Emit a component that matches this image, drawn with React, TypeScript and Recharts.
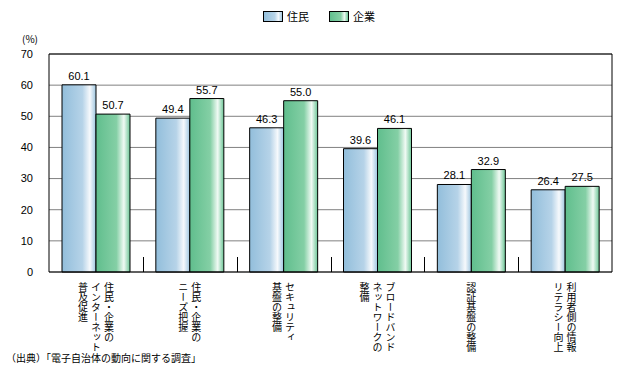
import { BarChart, Bar, XAxis, YAxis, CartesianGrid, LabelList } from 'recharts';

const categories = [
  '住民・企業のインターネット普及促進',
  '住民・企業のニーズ把握',
  'セキュリティ基盤の整備',
  'ブロードバンドネットワークの整備',
  '認証基盤の整備',
  '利用者側の情報リテラシー向上',
];
const categoryLines = [
  ['住民・企業の', 'インターネット', '普及促進'],
  ['住民・企業の', 'ニーズ把握'],
  ['セキュリティ', '基盤の整備'],
  ['ブロードバンド', 'ネットワークの', '整備'],
  ['認証基盤の整備'],
  ['利用者側の情報', 'リテラシー向上'],
];
const residents = [60.1, 49.4, 46.3, 39.6, 28.1, 26.4];
const companies = [50.7, 55.7, 55.0, 46.1, 32.9, 27.5];
const yTicks = [0, 10, 20, 30, 40, 50, 60, 70];

const data = categories.map((name, i) => ({ name, 住民: residents[i], 企業: companies[i] }));

const JP = '"Noto Sans CJK JP", sans-serif';
const NUM = '"Liberation Sans", Arial, sans-serif';

function CategoryTick({ x, y, payload }: any) {
  const lines = categoryLines[payload.index] || [];
  return (
    <foreignObject x={x - 50} y={y + 9} width={100} height={90}>
      <div style={{ display: 'flex', justifyContent: 'center' }}>
        <div style={{ writingMode: 'vertical-rl', fontFamily: JP, fontSize: 10, lineHeight: '13px', color: '#000' }}>
          {lines.map((l, i) => (
            <div key={i}>{l}</div>
          ))}
        </div>
      </div>
    </foreignObject>
  );
}

// short inward tick at the left edge of each category band (skip the first, it sits on the y axis)
function DividerTick({ x, y, width, index }: any) {
  if (!index) return <g />;
  const half = width / categories.length / 2;
  const xx = Math.round(x - half) + 0.5;
  return <line x1={xx} x2={xx} y1={y} y2={y - 15} stroke="#000" strokeWidth={1} />;
}

const fmt = (v: any) => Number(v).toFixed(1);

export default function App() {
  return (
    <div style={{ position: 'absolute', left: 0, top: 0, width: 623, height: 375, background: '#fff' }}>
      {/* legend */}
      <div style={{ position: 'absolute', top: 8, left: 263, display: 'flex', alignItems: 'center', fontFamily: JP, fontSize: 11 }}>
        <span style={{ width: 18, height: 9, border: '1px solid #000', background: 'linear-gradient(to right, #94c0dc, #b8d4e8 60%, #f4f8fc 80%, #a2c8e0)', marginRight: 4 }} />
        <span style={{ marginRight: 20 }}>住民</span>
        <span style={{ width: 18, height: 9, border: '1px solid #000', background: 'linear-gradient(to right, #62bf8f, #86d0a6 60%, #eef9f2 80%, #6cc696)', marginRight: 4 }} />
        <span>企業</span>
      </div>
      <div style={{ position: 'absolute', top: 31, left: 22, fontFamily: JP, fontSize: 10 }}>(%)</div>
      <BarChart
        width={623}
        height={375}
        data={data}
        margin={{ top: 53, right: 10, bottom: 0, left: 0 }}
        barGap={0}
        barSize={34}
      >
        <defs>
          <linearGradient id="gBlue" x1="0" y1="0" x2="1" y2="0">
            <stop offset="0%" stopColor="#92bedb" />
            <stop offset="60%" stopColor="#b6d3e8" />
            <stop offset="82%" stopColor="#f6f9fc" />
            <stop offset="100%" stopColor="#9ec6e0" />
          </linearGradient>
          <linearGradient id="gGreen" x1="0" y1="0" x2="1" y2="0">
            <stop offset="0%" stopColor="#60be8d" />
            <stop offset="60%" stopColor="#84cfa5" />
            <stop offset="82%" stopColor="#f0faf4" />
            <stop offset="100%" stopColor="#6cc696" />
          </linearGradient>
        </defs>
        <CartesianGrid vertical={false} stroke="#808080" xAxisId="cat" />
        <XAxis
          xAxisId="aDiv"
          dataKey="name"
          interval={0}
          axisLine={{ stroke: '#000' }}
          tickLine={false}
          tickSize={0}
          tickMargin={0}
          tick={<DividerTick />}
          height={1}
        />
        <XAxis
          xAxisId="cat"
          dataKey="name"
          height={102}
          tickLine={false}
          tickSize={0}
          tickMargin={0}
          axisLine={false}
          interval={0}
          tick={<CategoryTick />}
        />
        <XAxis xAxisId="top" orientation="top" height={1} tick={false} tickLine={false} axisLine={{ stroke: '#000' }} />
        <YAxis
          domain={[0, 70]}
          ticks={yTicks}
          width={49}
          tickLine={false}
          axisLine={{ stroke: '#000' }}
          tickMargin={10}
          tick={{ fill: '#000', fontSize: 11, fontFamily: NUM }}
        />
        <YAxis yAxisId="r" orientation="right" width={1} tick={false} tickLine={false} axisLine={{ stroke: '#000' }} />
        <Bar xAxisId="cat" dataKey="住民" fill="url(#gBlue)" stroke="#000" strokeWidth={1} isAnimationActive={false}>
          <LabelList dataKey="住民" position="top" offset={5} formatter={fmt} fill="#000" fontSize={11} fontFamily={NUM} />
        </Bar>
        <Bar xAxisId="cat" dataKey="企業" fill="url(#gGreen)" stroke="#000" strokeWidth={1} isAnimationActive={false}>
          <LabelList dataKey="企業" position="top" offset={5} formatter={fmt} fill="#000" fontSize={11} fontFamily={NUM} />
        </Bar>
      </BarChart>
      <div style={{ position: 'absolute', top: 350, left: 6, fontFamily: JP, fontSize: 10 }}>（出典）「電子自治体の動向に関する調査」</div>
    </div>
  );
}
